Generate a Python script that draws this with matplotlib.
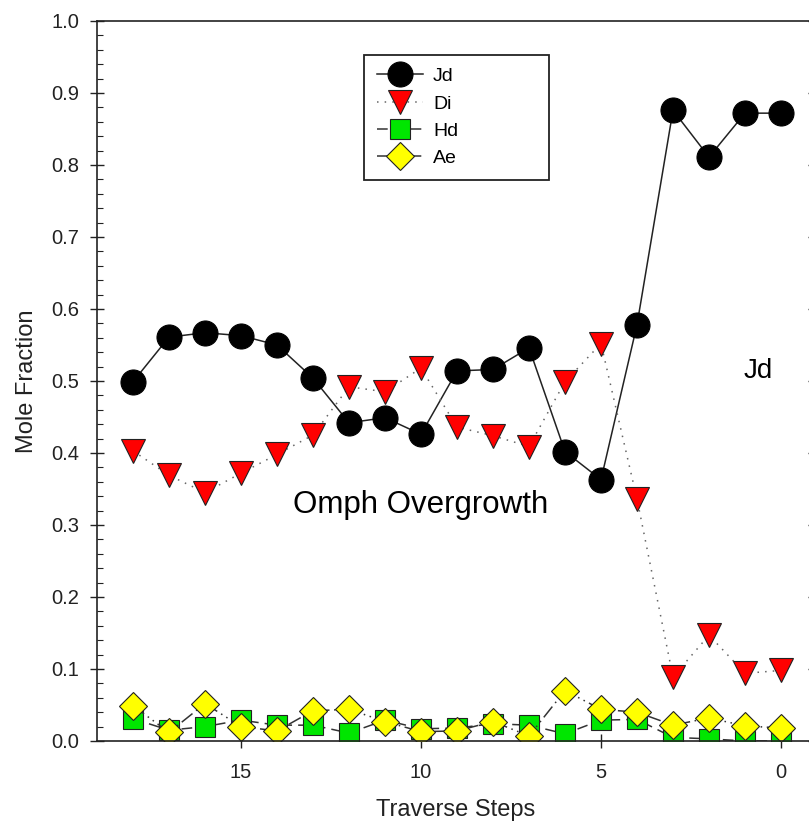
import matplotlib
matplotlib.use("Agg")
import matplotlib.pyplot as plt
from matplotlib.ticker import MultipleLocator, FormatStrFormatter

plt.rcParams['font.family'] = ['Liberation Sans', 'DejaVu Sans']

# traverse step numbers (left to right)
steps = [18, 17, 16, 15, 14, 13, 12, 11, 10, 9, 8, 7, 6, 5, 4, 3, 2, 1, 0]
jd = [0.499, 0.561, 0.567, 0.563, 0.550, 0.504, 0.442, 0.449, 0.426, 0.514,
      0.516, 0.546, 0.402, 0.363, 0.578, 0.876, 0.811, 0.872, 0.872]
di = [0.403, 0.369, 0.345, 0.372, 0.398, 0.425, 0.492, 0.485, 0.518, 0.436,
      0.424, 0.409, 0.499, 0.552, 0.336, 0.089, 0.147, 0.094, 0.098]
hd = [0.031, 0.015, 0.020, 0.029, 0.022, 0.022, 0.011, 0.029, 0.017, 0.018,
      0.024, 0.022, 0.010, 0.029, 0.030, 0.005, 0.003, 0.000, 0.000]
ae = [0.049, 0.012, 0.052, 0.020, 0.014, 0.042, 0.044, 0.027, 0.013, 0.014,
      0.027, 0.007, 0.070, 0.044, 0.040, 0.022, 0.032, 0.021, 0.018]

xticks = [15, 10, 5, 0]
dark = '#222222'

fig = plt.figure(figsize=(8.09, 8.27), dpi=100)
ax = fig.add_axes([97 / 809, 86 / 827, 718.2 / 809, 720 / 827])

ax.plot(steps, jd, '-', color=dark, lw=1.1, marker='o', ms=18,
        mfc='black', mec='black', mew=0.8, label='Jd')
ax.plot(steps, di, linestyle=(0, (1, 4)), color='#666666', lw=1.1,
        marker='v', ms=17.5, mfc='#ff0000', mec=dark, mew=0.8, label='Di')
ax.plot(steps, hd, linestyle=(0, (7, 4)), color='#333333', lw=1.1,
        marker='s', ms=14.4, mfc='#00e600', mec=dark, mew=0.8, label='Hd')
ax.plot(steps, ae, linestyle=(0, (9, 3, 1, 3, 1, 3)), color='#333333', lw=1.1,
        marker='D', ms=14.2, mfc='#ffff00', mec=dark, mew=0.8, label='Ae')

ax.set_xlim(19, -0.95)
ax.set_ylim(0, 1.0)
ax.set_xticks(xticks)
ax.yaxis.set_major_locator(MultipleLocator(0.1))
ax.yaxis.set_minor_locator(MultipleLocator(0.02))
ax.yaxis.set_major_formatter(FormatStrFormatter('%.1f'))

for s in ax.spines.values():
    s.set_linewidth(1.2)
    s.set_color(dark)

ax.tick_params(which='major', direction='inout', length=10, width=1,
               color=dark, labelsize=14.5, labelcolor=dark, right=True)
ax.tick_params(axis='x', which='major', pad=11)
ax.tick_params(axis='y', which='major', pad=8)
ax.tick_params(axis='y', which='minor', direction='in', length=4, width=0.8,
               color=dark)

ax.set_xlabel('Traverse Steps', fontsize=17, color=dark, labelpad=12)
ax.set_ylabel('Mole Fraction', fontsize=17, color=dark)
ax.yaxis.set_label_coords(-0.082, 0.5)

ax.text(10, 0.317, 'Omph Overgrowth', fontsize=22.5, ha='center',
        va='baseline', color='black')
ax.text(0.63, 0.504, 'Jd', fontsize=20, ha='center', va='baseline',
        color='black')

leg = ax.legend(loc='upper left', bbox_to_anchor=(0.3718, 0.7778, 0.2576, 0.175),
                mode='expand', borderaxespad=0, numpoints=1, fontsize=14,
                handlelength=2.4, handletextpad=0.5, labelspacing=0.5,
                borderpad=0.65, fancybox=False, framealpha=1)
leg.get_frame().set_edgecolor(dark)
leg.get_frame().set_linewidth(1.3)

fig.savefig('out.png', dpi=100)
